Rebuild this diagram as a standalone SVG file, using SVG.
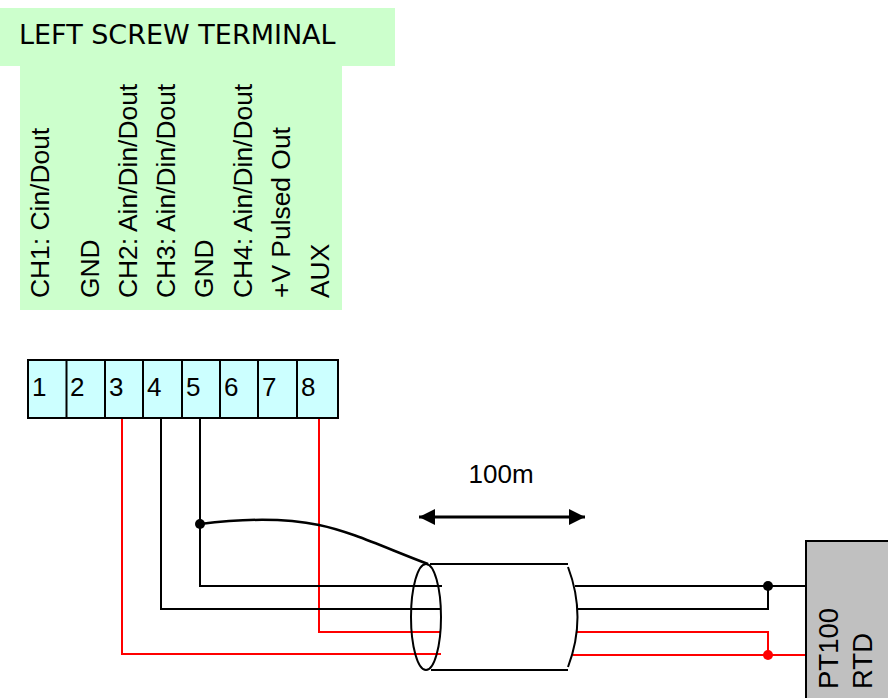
<svg xmlns="http://www.w3.org/2000/svg" width="888" height="698" viewBox="0 0 888 698">
<style>
.a{font-family:"Liberation Sans",Arial,sans-serif;fill:#000}
.v{font-size:26.4px}
.n{font-size:26px}
.p{font-size:27.5px}
.t{font-family:"DejaVu Sans",Verdana,sans-serif;font-size:27px;fill:#000}
.w{fill:none;stroke:#000;stroke-width:2}
.r{fill:none;stroke:#f00;stroke-width:2}
.c{fill:#cff;stroke:#000;stroke-width:2}
</style>
<defs>
<marker id="h" markerUnits="userSpaceOnUse" markerWidth="17" markerHeight="17" refX="16" refY="8.500" orient="auto-start-reverse"><path d="M0 0.500L16 8.500L0 16.500Z" fill="#000"/></marker>
</defs>
<g id="title"><rect x="0" y="8" width="395" height="58" fill="#cfc"/><rect x="20" y="66" width="322" height="244" fill="#cfc"/>
<text class="t" x="19" y="44">LEFT SCREW TERMINAL</text>
<text class="a v" transform="translate(49 298) rotate(-90)">CH1: Cin/Dout</text>
<text class="a v" transform="translate(98.500 298) rotate(-90)">GND</text>
<text class="a v" transform="translate(136.500 298) rotate(-90)">CH2: Ain/Din/Dout</text>
<text class="a v" transform="translate(174.500 298) rotate(-90)">CH3: Ain/Din/Dout</text>
<text class="a v" transform="translate(212.500 298) rotate(-90)">GND</text>
<text class="a v" transform="translate(251.500 298) rotate(-90)">CH4: Ain/Din/Dout</text>
<text class="a v" transform="translate(290 298) rotate(-90)">+V Pulsed Out</text>
<text class="a v" transform="translate(329 298) rotate(-90)">AUX</text>
</g>
<g id="connectors">
<path class="r" d="M122 418V654H441M319 418V632H441M577 632H768V655M573 655H807"/>
<path class="w" d="M161 418V609H441M200 418V586H442M575 586H807M577 609H768V586"/>
<path class="w" style="stroke-width:2.500" d="M200 524C240 519 285 518 319 525S390 550 428 564"/>
<circle cx="200" cy="524" r="5" fill="#000"/>
<circle cx="768" cy="586" r="5" fill="#000"/>
<circle cx="768" cy="655" r="5" fill="#f00"/>
<line x1="419" y1="517" x2="585" y2="517" stroke="#000" stroke-width="3" marker-start="url(#h)" marker-end="url(#h)"/>
</g>
<g id="cable" fill="none" stroke="#000" stroke-width="2">
<ellipse cx="426" cy="617" rx="15" ry="53"/>
<path d="M430 564H568M431 670H568M568 567Q587 617 568 667"/>
</g>
<g id="terminal">
<rect class="c" x="28" y="360" width="310" height="58"/>
<path d="M66.500 360V418M105 360V418M143 360V418M182 360V418M220 360V418M258 360V418M297 360V418" stroke="#000" stroke-width="2"/>
<text class="a n" x="32" y="396">1</text><text class="a n" x="70" y="396">2</text><text class="a n" x="109" y="396">3</text><text class="a n" x="147" y="396">4</text><text class="a n" x="186" y="396">5</text><text class="a n" x="224" y="396">6</text><text class="a n" x="262" y="396">7</text><text class="a n" x="301" y="396">8</text>
</g>
<g id="label"><text class="a" font-size="26" x="468.500" y="483">100m</text></g>
<g id="rtd">
<rect x="806" y="541" width="90" height="170" fill="#c0c0c0" stroke="#000" stroke-width="2"/>
<text class="a p" transform="translate(838 689) rotate(-90)">PT100</text>
<text class="a p" transform="translate(871.500 689) rotate(-90)">RTD</text>
</g>
</svg>
